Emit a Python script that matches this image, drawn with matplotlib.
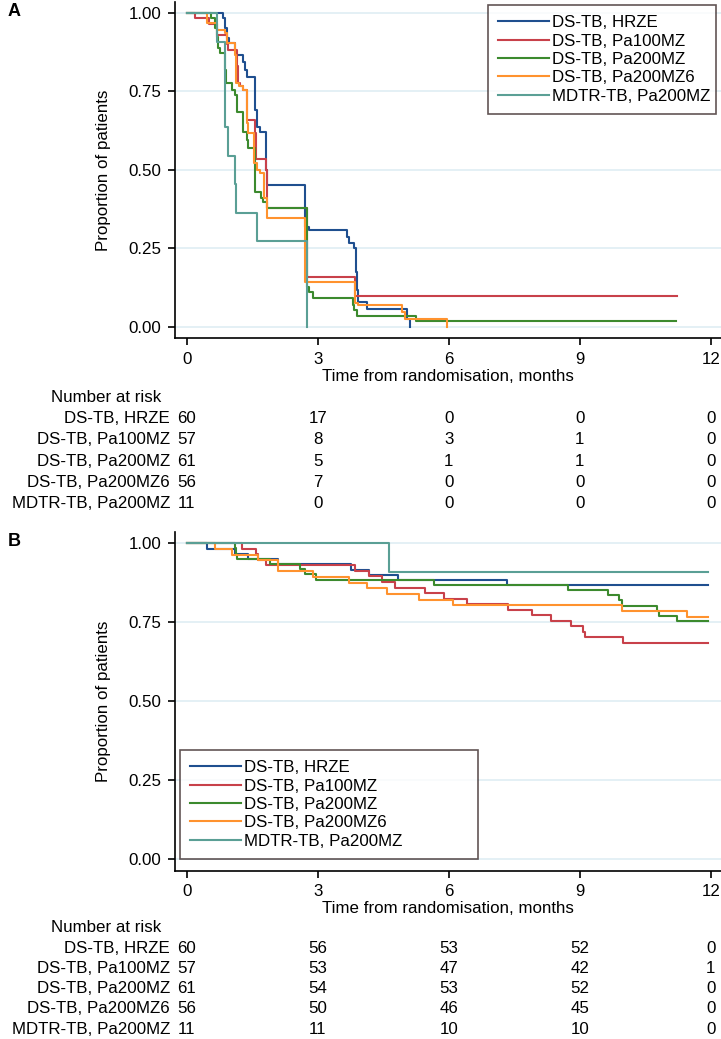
import matplotlib
matplotlib.use("Agg")
import matplotlib.pyplot as plt
from matplotlib.transforms import blended_transform_factory

plt.rcParams['font.family'] = ['Liberation Sans', 'DejaVu Sans']
FS = 12.2

groups = ['DS-TB, HRZE', 'DS-TB, Pa100MZ', 'DS-TB, Pa200MZ', 'DS-TB, Pa200MZ6', 'MDTR-TB, Pa200MZ']
colors = ['#1f4f8f', '#c8414a', '#3c8a2e', '#ff922e', '#5a9f95']

# panel A: step curves
a_hrze_t = [0, 0.84, 0.88, 0.92, 0.98, 1.11, 1.14, 1.30, 1.33, 1.37, 1.56, 1.62, 1.68, 1.81, 1.85,
            2.71, 2.79, 3.66, 3.72, 3.82, 3.87, 3.89, 3.93, 4.12, 5.04, 5.12]
a_hrze_s = [1.0, 0.983, 0.951, 0.920, 0.904, 0.882, 0.866, 0.845, 0.818, 0.797, 0.691, 0.638, 0.622, 0.50, 0.452,
            0.319, 0.309, 0.285, 0.266, 0.25, 0.175, 0.117, 0.08, 0.056, 0.024, 0.0]
a_p100_t = [0, 0.19, 0.50, 0.69, 0.92, 0.95, 1.15, 1.17, 1.22, 1.30, 1.37, 1.56, 1.58, 1.81, 1.85,
            2.75, 3.85, 11.23]
a_p100_s = [1.0, 0.983, 0.965, 0.931, 0.90, 0.882, 0.83, 0.776, 0.766, 0.755, 0.66, 0.617, 0.535, 0.50, 0.378,
            0.159, 0.098, 0.098]
a_p200_t = [0, 0.55, 0.65, 0.69, 0.72, 0.76, 0.88, 0.90, 1.03, 1.11, 1.15, 1.30, 1.37, 1.41, 1.56, 1.71, 1.75,
            1.85, 2.75, 2.80, 2.89, 3.80, 3.83, 3.89, 5.25, 11.2]
a_p200_s = [1.0, 0.984, 0.951, 0.925, 0.888, 0.872, 0.820, 0.776, 0.755, 0.739, 0.686, 0.62, 0.595, 0.569, 0.431,
            0.41, 0.399, 0.378, 0.128, 0.112, 0.09, 0.069, 0.053, 0.035, 0.018, 0.018]
a_p2006_t = [0, 0.46, 0.69, 0.88, 0.92, 1.11, 1.14, 1.19, 1.30, 1.37, 1.41, 1.53, 1.60, 1.68, 1.78, 1.85,
             2.72, 3.85, 3.93, 4.92, 5.0, 5.95]
a_p2006_s = [1.0, 0.967, 0.946, 0.935, 0.904, 0.866, 0.776, 0.766, 0.755, 0.649, 0.617, 0.521, 0.50, 0.489, 0.41,
             0.346, 0.142, 0.075, 0.069, 0.048, 0.024, 0.0]
a_mdtr_t = [0, 0.69, 0.88, 0.95, 1.11, 1.14, 1.60, 2.75]
a_mdtr_s = [1.0, 0.909, 0.636, 0.545, 0.455, 0.364, 0.273, 0.0]

# panel B
b_hrze_t = [0, 0.47, 1.10, 1.40, 2.09, 3.76, 4.18, 4.84, 7.34, 11.93]
b_hrze_s = [1, 0.983, 0.967, 0.95, 0.933, 0.917, 0.90, 0.883, 0.867, 0.867]
b_p100_t = [0, 1.26, 1.59, 1.64, 1.82, 3.85, 4.18, 4.47, 4.77, 5.46, 5.89, 6.41, 7.35, 7.91, 8.34, 8.81,
            9.07, 9.13, 9.98, 11.93]
b_p100_s = [1, 0.982, 0.965, 0.947, 0.930, 0.912, 0.895, 0.877, 0.86, 0.842, 0.824, 0.807, 0.789, 0.772, 0.754,
            0.737, 0.719, 0.702, 0.684, 0.684]
b_p200_t = [0, 1.10, 1.13, 1.16, 1.91, 2.60, 2.71, 2.95, 5.66, 8.73, 9.64, 9.90, 9.96, 10.77, 10.81, 11.22, 11.93]
b_p200_s = [1, 0.984, 0.967, 0.951, 0.934, 0.918, 0.902, 0.885, 0.869, 0.852, 0.836, 0.82, 0.803, 0.787, 0.77,
            0.754, 0.754]
b_p2006_t = [0, 0.65, 1.04, 1.63, 2.08, 2.90, 3.72, 4.12, 4.59, 5.32, 6.09, 9.96, 11.46, 11.93]
b_p2006_s = [1, 0.982, 0.964, 0.946, 0.911, 0.893, 0.875, 0.857, 0.839, 0.821, 0.804, 0.786, 0.768, 0.768]
b_mdtr_t = [0, 4.63, 11.93]
b_mdtr_s = [1, 0.909, 0.909]

risk_times = [0, 3, 6, 9, 12]
a_risk = [[60, 17, 0, 0, 0],
          [57, 8, 3, 1, 0],
          [61, 5, 1, 1, 0],
          [56, 7, 0, 0, 0],
          [11, 0, 0, 0, 0]]
b_risk = [[60, 56, 53, 52, 0],
          [57, 53, 47, 42, 1],
          [61, 54, 53, 52, 0],
          [56, 50, 46, 45, 0],
          [11, 11, 10, 10, 0]]

W, H = 721, 1039
fig = plt.figure(figsize=(W / 100, H / 100), dpi=100)


def px_axes(top, bottom):
    return fig.add_axes([175 / W, 1 - bottom / H, (W - 175) / W, (bottom - top) / H])


def draw_panel(ax, curves, risk, leg_box, risk_y0, risk_dy, letter, letter_y):
    ax.set_xlim(-0.268, 12.235)
    ax.set_ylim(-0.037, 1.035)
    for y in [0, 0.25, 0.5, 0.75, 1.0]:
        ax.axhline(y, color='#dfedf4', lw=1.2, zorder=0)
    for (t, s), c, g in zip(curves, colors, groups):
        ax.step(t, s, where='post', color=c, lw=1.5, label=g)
    ax.spines['top'].set_visible(False)
    ax.spines['right'].set_visible(False)
    ax.spines['left'].set_linewidth(1.2)
    ax.spines['bottom'].set_linewidth(1.2)
    ax.set_xticks(risk_times)
    ax.set_yticks([0, 0.25, 0.5, 0.75, 1.0])
    ax.set_yticklabels(['0.00', '0.25', '0.50', '0.75', '1.00'])
    ax.tick_params(labelsize=FS, length=5, width=1.2, pad=5)
    ax.set_xlabel('Time from randomisation, months', fontsize=FS, labelpad=1)
    ax.set_ylabel('Proportion of patients', fontsize=FS, labelpad=12)

    lx, ly, lw_, lh = leg_box
    leg = ax.legend(loc='upper left', bbox_to_anchor=(lx / W, 1 - (ly + lh) / H, lw_ / W, lh / H),
                    bbox_transform=fig.transFigure, mode='expand', fontsize=FS, frameon=True,
                    fancybox=False, handlelength=3.0, handletextpad=0.2, labelspacing=0.2,
                    borderpad=0.6, borderaxespad=0)
    leg.get_frame().set_edgecolor('#3a2a2a')
    leg.get_frame().set_linewidth(1.2)
    for line in leg.get_lines():
        line.set_linewidth(1.5)

    tr = blended_transform_factory(ax.transData, fig.transFigure)
    fig.text(161 / W, 1 - risk_y0 / H, 'Number at risk', ha='right', va='center', fontsize=FS)
    for i, g in enumerate(groups):
        y = 1 - (risk_y0 + risk_dy * (i + 1)) / H
        fig.text(170 / W, y, g, ha='right', va='center', fontsize=FS)
        for t, n in zip(risk_times, risk[i]):
            ax.text(t, y, str(n), transform=tr, ha='center', va='center', fontsize=FS)
    fig.text(8 / W, 1 - letter_y / H, letter, ha='left', va='center', fontsize=13, fontweight='bold')


ax_a = px_axes(2.1, 338.3)
draw_panel(ax_a,
           [(a_hrze_t, a_hrze_s), (a_p100_t, a_p100_s), (a_p200_t, a_p200_s),
            (a_p2006_t, a_p2006_s), (a_mdtr_t, a_mdtr_s)],
           a_risk, (488, 5, 228, 113), 397, 21.4, 'A', 12)

ax_b = px_axes(532.3, 870.6)
draw_panel(ax_b,
           [(b_hrze_t, b_hrze_s), (b_p100_t, b_p100_s), (b_p200_t, b_p200_s),
            (b_p2006_t, b_p2006_s), (b_mdtr_t, b_mdtr_s)],
           b_risk, (180, 750, 298, 112), 928, 20.2, 'B', 542)

fig.savefig('out.png', dpi=100)
